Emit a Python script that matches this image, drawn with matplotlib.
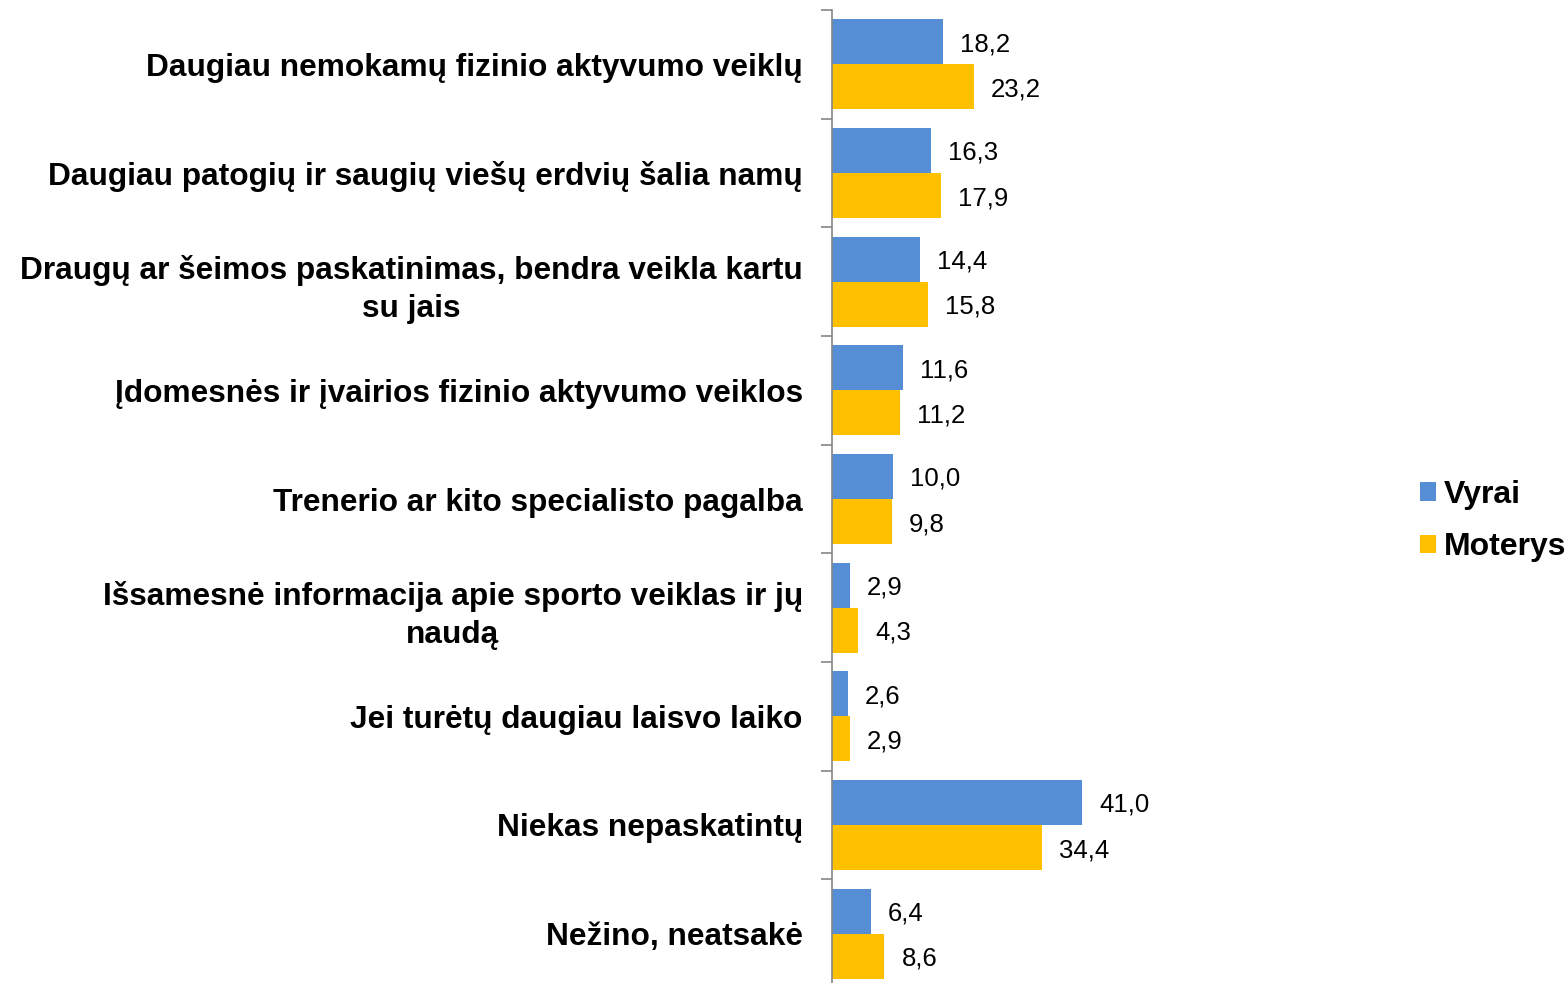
import matplotlib.pyplot as plt
import numpy as np

plt.rcParams['font.family'] = ['Liberation Sans', 'DejaVu Sans']

# Datos
categorias = [
    "Daugiau nemokamų fizinio aktyvumo veiklų",
    "Daugiau patogių ir saugių viešų erdvių šalia namų",
    "Draugų ar šeimos paskatinimas, bendra veikla kartu\nsu jais",
    "Įdomesnės ir įvairios fizinio aktyvumo veiklos",
    "Trenerio ar kito specialisto pagalba",
    "Išsamesnė informacija apie sporto veiklas ir jų\nnaudą",
    "Jei turėtų daugiau laisvo laiko",
    "Niekas nepaskatintų",
    "Nežino, neatsakė",
]
vyrai = [18.2, 16.3, 14.4, 11.6, 10.0, 2.9, 2.6, 41.0, 6.4]
moterys = [23.2, 17.9, 15.8, 11.2, 9.8, 4.3, 2.9, 34.4, 8.6]

azul = '#558ED5'
amarillo = '#FFC000'

fig = plt.figure(figsize=(15.67, 9.83), dpi=100)
W, H = 1567, 983
ax = fig.add_axes([832 / W, 1 - 988 / H, 305 / W, 978 / H])

n = len(categorias)
y = np.arange(n)
h = 0.415
ax.barh(y - h / 2, vyrai, height=h, color=azul, label='Vyrai')
ax.barh(y + h / 2, moterys, height=h, color=amarillo, label='Moterys')

for i in range(n):
    ax.annotate(f"{vyrai[i]:.1f}".replace('.', ','), (vyrai[i], y[i] - h / 2),
                xytext=(17, 0), textcoords='offset pixels', va='center_baseline', ha='left',
                fontsize=18.5)
    ax.annotate(f"{moterys[i]:.1f}".replace('.', ','), (moterys[i], y[i] + h / 2),
                xytext=(17, 0), textcoords='offset pixels', va='center_baseline', ha='left',
                fontsize=18.5)

ax.set_xlim(0, 50)
ax.set_ylim(n - 0.5, -0.5)

ax.set_yticks(y)
ax.set_yticklabels(categorias, fontsize=22.8, fontweight='bold', multialignment='center',
                   linespacing=1.35)
ax.tick_params(axis='y', which='major', length=0, pad=21)
ax.set_yticks(np.arange(n + 1) - 0.5, minor=True)
ax.tick_params(axis='y', which='minor', length=8, width=1.2, color='#868686')
ax.set_xticks([])

for s in ['top', 'right', 'bottom']:
    ax.spines[s].set_visible(False)
ax.spines['left'].set_color('#868686')
ax.spines['left'].set_linewidth(1.2)

fig.legend(loc='center left', bbox_to_anchor=(1420 / W, 1 - 521 / H), frameon=False,
           prop={'size': 23, 'weight': 'bold'}, handlelength=0.5, handleheight=0.5,
           handletextpad=0.25, labelspacing=0.7, borderpad=0, borderaxespad=0)

fig.savefig('out.png', dpi=100)
